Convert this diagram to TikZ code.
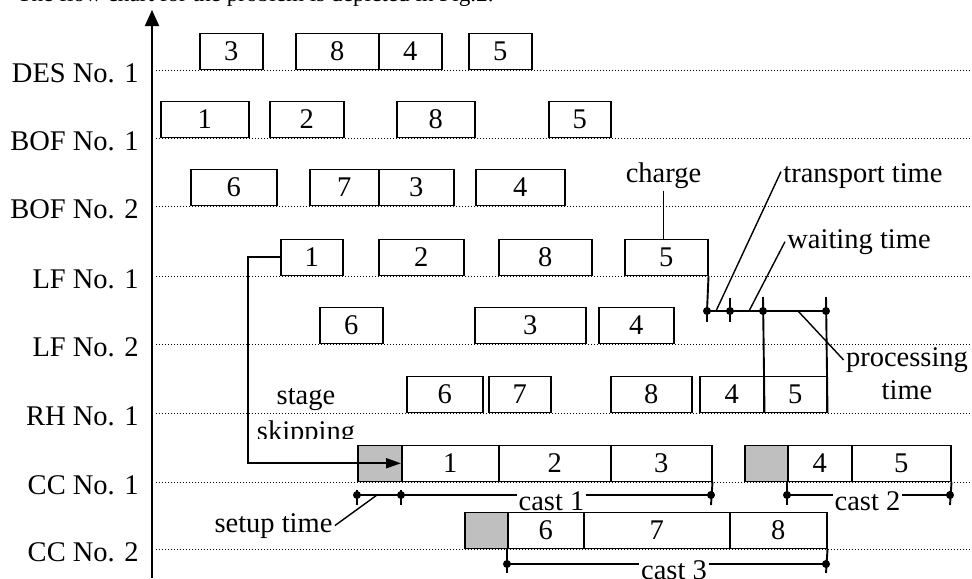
\documentclass[tikz,border=0pt]{standalone}
\usepackage{fontspec}
\setmainfont{Liberation Serif}
\usetikzlibrary{arrows.meta, positioning}
\newcommand{\figfont}{\fontsize{14.25pt}{16.5pt}\selectfont}

\begin{document}
\begin{tikzpicture}[
    x=0.5pt, y=-0.5pt,
    font=\figfont,
    gridline/.style={line width=0.5pt, dash pattern=on 0.6pt off 0.9pt},
    job/.style={rectangle, draw=black, fill=white, line width=0.75pt, minimum height=18pt, inner sep=0pt, anchor=south west},
    setup/.style={job, fill=black!25},
    stagelabel/.style={anchor=base east, inner sep=0pt},
    note/.style={inner sep=1pt},
    leader/.style={line width=0.7pt},
    span/.style={line width=0.95pt},
    flow/.style={-{Triangle[length=7.5pt, width=5pt]}, line width=0.95pt},
    eventdot/.style={circle, fill=black, inner sep=0pt, minimum size=4pt}
]
    \clip (0,0) rectangle (972,578);

    % Caption line (cut by the page edge)
    \node[anchor=base west, inner sep=0pt, font=\fontsize{11.6pt}{13pt}\selectfont] (caption) at (17,2) {The flow chart for the problem is depicted in Fig.2.};

    % Axis and stage lines
    \draw[line width=1pt, -{Triangle[length=8pt, width=7pt]}] (152,578) -- (152,10);
    \foreach \y in {70,138,206,276,344,413,482,549}
        \draw[gridline] (156,\y) -- (972,\y);

    \node[stagelabel] (des1) at (139,82) {DES No. 1};
    \node[stagelabel] (bof1) at (139,150) {BOF No. 1};
    \node[stagelabel] (bof2) at (139,218) {BOF No. 2};
    \node[stagelabel] (lf1) at (139,288) {LF No. 1};
    \node[stagelabel] (lf2) at (139,356) {LF No. 2};
    \node[stagelabel] (rh1) at (139,425) {RH No. 1};
    \node[stagelabel] (cc1) at (139,494) {CC No. 1};
    \node[stagelabel] (cc2) at (139,561) {CC No. 2};

    % DES No. 1
    \node[job, minimum width=31.5pt] (des13) at (199,70) {3};
    \node[job, minimum width=41.5pt] (des18) at (295,70) {8};
    \node[job, minimum width=31.5pt] (des14) at (378,70) {4};
    \node[job, minimum width=31.5pt] (des15) at (468,70) {5};

    % BOF No. 1
    \node[job, minimum width=44pt] (bof11) at (160,138) {1};
    \node[job, minimum width=37pt] (bof12) at (269,138) {2};
    \node[job, minimum width=39pt] (bof18) at (396,138) {8};
    \node[job, minimum width=31pt] (bof15) at (548,138) {5};

    % BOF No. 2
    \node[job, minimum width=43pt] (bof26) at (190,206) {6};
    \node[job, minimum width=34.5pt] (bof27) at (309,206) {7};
    \node[job, minimum width=37.5pt] (bof23) at (378,206) {3};
    \node[job, minimum width=44.5pt] (bof24) at (475,206) {4};

    % LF No. 1
    \node[job, minimum width=31pt] (lf11) at (280,276) {1};
    \node[job, minimum width=42.5pt] (lf12) at (378,276) {2};
    \node[job, minimum width=46.5pt] (lf18) at (498,276) {8};
    \node[job, minimum width=41.5pt] (lf15) at (624,276) {5};

    % LF No. 2
    \node[job, minimum width=31.5pt] (lf26) at (319,344) {6};
    \node[job, minimum width=55.5pt] (lf23) at (474,344) {3};
    \node[job, minimum width=37.5pt] (lf24) at (598,344) {4};

    % RH No. 1
    \node[job, minimum width=38pt] (rh16) at (406,413) {6};
    \node[job, minimum width=31pt] (rh17) at (488,413) {7};
    \node[job, minimum width=40.5pt] (rh18) at (610,413) {8};
    \node[job, minimum width=32pt] (rh14) at (699,413) {4};
    \node[job, minimum width=31.5pt] (rh15) at (763,413) {5};

    % CC No. 1
    \node[setup, minimum width=22pt] (cc1s1) at (357,482) {};
    \node[job, minimum width=48.5pt] (cc11) at (401,482) {1};
    \node[job, minimum width=56pt] (cc12) at (498,482) {2};
    \node[job, minimum width=50.5pt] (cc13) at (610,482) {3};
    \node[setup, minimum width=21.5pt] (cc1s2) at (744,482) {};
    \node[job, minimum width=32pt] (cc14) at (787,482) {4};
    \node[job, minimum width=49.5pt] (cc15) at (851,482) {5};

    % CC No. 2
    \node[setup, minimum width=21.5pt] (cc2s1) at (464,549) {};
    \node[job, minimum width=38pt] (cc26) at (507,549) {6};
    \node[job, minimum width=73pt] (cc27) at (583,549) {7};
    \node[job, minimum width=48.5pt] (cc28) at (729,549) {8};

    % Stage skipping
    \draw[flow] (lf11.west) -- ++(-16pt,0) |- (cc11.west);
    \begin{scope}
        \clip (250,380) rectangle (370,438);
        \node[note, align=center] (skipping) at (306,418) {stage\\[1.5pt]skipping};
    \end{scope}

    % Time marks of charge 5
    \node[eventdot] (t1) at (707,311) {};
    \node[eventdot] (t2) at (730,311) {};
    \node[eventdot] (t3) at (763,311) {};
    \node[eventdot] (t4) at (826,311) {};
    \coordinate (transportpt) at (716,311);
    \coordinate (waitpt) at (749,311);
    \coordinate (procpt) at (798,311);
    \draw[span] (lf15.south east) -- (t1.center) -- (t4.center);
    \draw[span] (t1.center) -- ++(0,11);
    \draw[span] ([yshift=6.5pt]t2.center) -- ([yshift=-5.5pt]t2.center);
    \draw[span] ([yshift=7pt]t3.center) -- (rh14.south east);
    \draw[span] ([yshift=7pt]t4.center) -- (rh15.south east);

    \node[note, anchor=base] (charge) at (663.5,182) {charge};
    \draw[leader] (charge.south) -- (charge.south |- lf15.north);
    \node[note, anchor=base west] (transport) at (781,182) {transport time};
    \draw[leader] ([yshift=2pt]transport.west) -- (transportpt);
    \node[note, anchor=base west] (waiting) at (785,248) {waiting time};
    \draw[leader] (waiting.west) -- (waitpt);
    \node[note, align=center] (processing) at (907,374) {processing\\time};
    \draw[leader] (procpt) -- ([yshift=7pt]processing.west);

    % Casts
    \node[eventdot] (s1a) at (357,495) {};
    \node[eventdot] (s1b) at (401,495) {};
    \node[eventdot] (c1end) at (711,495) {};
    \draw[span] (s1a.center) -- (c1end.center);
    \draw[span] ([yshift=2.5pt]s1a.center) -- ([yshift=-5pt]s1a.center);
    \draw[span] ([yshift=2.5pt]s1b.center) -- ([yshift=-5pt]s1b.center);
    \draw[span] (cc13.south east) -- ([yshift=-5pt]c1end.center);

    \node[eventdot] (c2start) at (787,495) {};
    \node[eventdot] (c2end) at (950,495) {};
    \draw[span] (c2start.center) -- (c2end.center);
    \draw[span] (cc14.south west) -- ([yshift=-5pt]c2start.center);
    \draw[span] (cc15.south east) -- ([yshift=-5pt]c2end.center);

    \node[eventdot] (c3start) at (507,564) {};
    \node[eventdot] (c3end) at (826,564) {};
    \draw[span] (c3start.center) -- (c3end.center);
    \draw[span] (cc26.south west) -- ([yshift=-4.5pt]c3start.center);
    \draw[span] (cc28.south east) -- ([yshift=-4.5pt]c3end.center);

    \begin{scope}
        \clip (480,484) rectangle (972,510);
        \node[note, fill=white, anchor=base] (cast1) at (551.5,510) {cast 1};
        \node[note, fill=white, anchor=base] (cast2) at (867.5,510) {cast 2};
    \end{scope}
    \node[note, fill=white, anchor=base] (cast3) at (674,579) {cast 3};

    \node[note, anchor=base] (setuptime) at (273.5,532) {setup time};
    \coordinate (setuppt) at (377,495);
    \draw[leader] (setuptime.east) -- (setuppt);

\end{tikzpicture}
\end{document}
